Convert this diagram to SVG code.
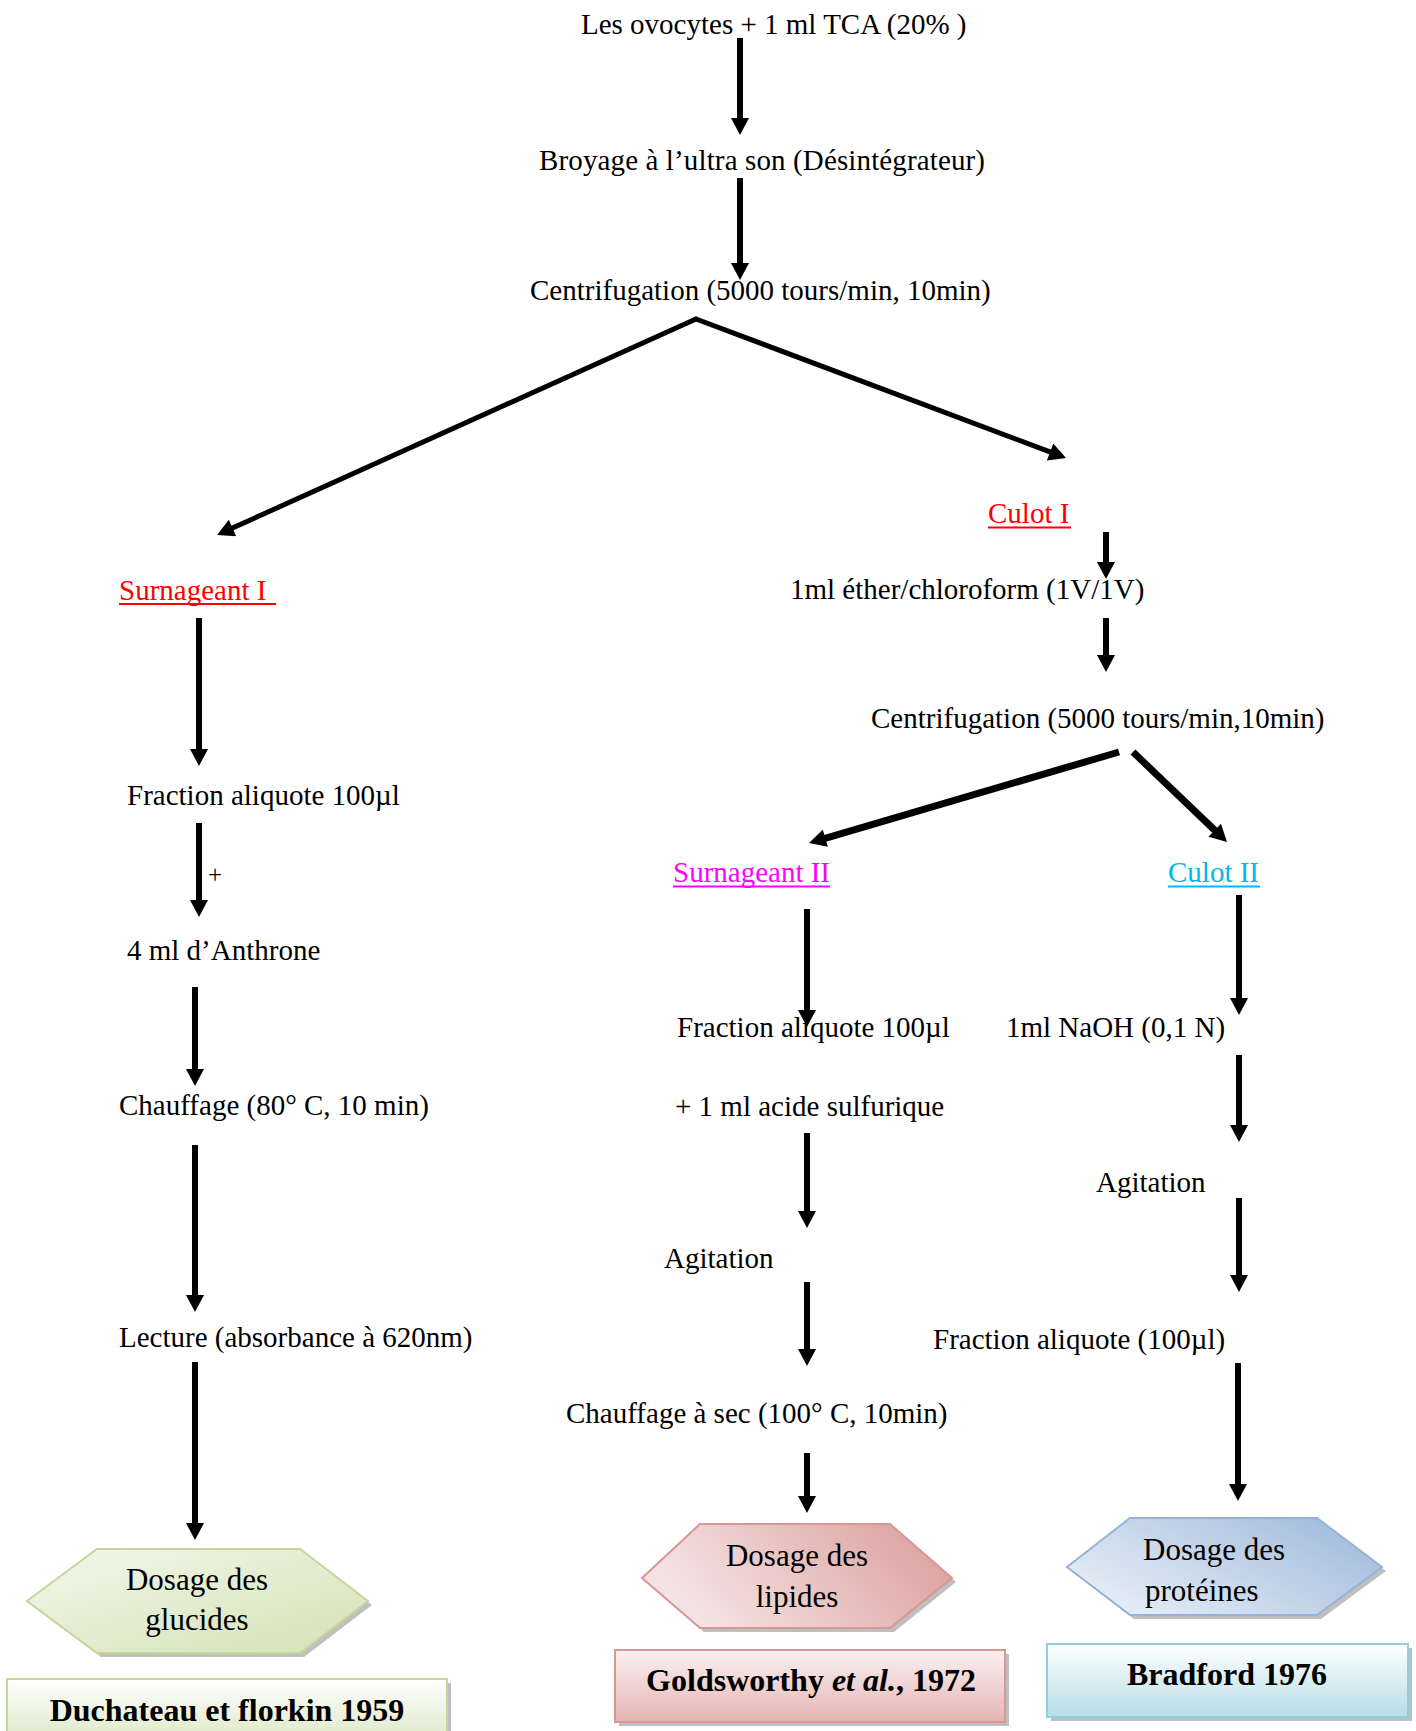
<svg xmlns="http://www.w3.org/2000/svg" width="1416" height="1731" viewBox="0 0 1416 1731">
<style>
.t{font-family:"Liberation Serif","Times New Roman",serif;font-size:29px;fill:#000}
.h{font-family:"Liberation Serif","Times New Roman",serif;font-size:31px;fill:#000}
.b{font-family:"Liberation Serif","Times New Roman",serif;font-size:32px;font-weight:bold;fill:#000}
.c{stroke:#000;stroke-width:6;fill:none}
.d{stroke:#000;stroke-width:5;fill:none;stroke-linecap:round}
.d2{stroke:#000;stroke-width:7;fill:none}
.sh{fill:#7f7f7f;opacity:0.5}
</style>
<defs>
<marker id="ah" markerUnits="userSpaceOnUse" markerWidth="18" markerHeight="18" viewBox="0 0 17 18" refX="2" refY="9" orient="auto">
<path d="M0,0 L17,9 L0,18 Z" fill="#000"/>
</marker>
<linearGradient id="gG" x1="0" y1="0" x2="1" y2="1"><stop offset="0" stop-color="#f3f7ea"/><stop offset="1" stop-color="#d3e2b6"/></linearGradient>
<linearGradient id="gP" x1="0" y1="0.3" x2="1" y2="0"><stop offset="0" stop-color="#f5e3e3"/><stop offset="1" stop-color="#d99b99"/></linearGradient>
<linearGradient id="gB" x1="0" y1="0.6" x2="1" y2="0"><stop offset="0" stop-color="#e3ebf5"/><stop offset="1" stop-color="#9ab6d8"/></linearGradient>
<linearGradient id="bG" x1="0" y1="0" x2="0" y2="1"><stop offset="0" stop-color="#ffffff"/><stop offset="1" stop-color="#dfe9c9"/></linearGradient>
<linearGradient id="bP" x1="0" y1="0" x2="0" y2="1"><stop offset="0" stop-color="#fbf1f1"/><stop offset="1" stop-color="#e4b4b3"/></linearGradient>
<linearGradient id="bB" x1="0" y1="0" x2="0" y2="1"><stop offset="0" stop-color="#ffffff"/><stop offset="1" stop-color="#b7dde7"/></linearGradient>
</defs>
<rect width="1416" height="1731" fill="#fff"/>

<g id="connectors">
<line class="c" x1="740" y1="38" x2="740" y2="120" marker-end="url(#ah)"/>
<line class="c" x1="740" y1="178" x2="740" y2="265" marker-end="url(#ah)"/>
<line class="d" x1="696" y1="319" x2="230.7" y2="528.8" marker-end="url(#ah)"/>
<line class="d" x1="696" y1="319" x2="1052" y2="452.7" marker-end="url(#ah)"/>
<line class="c" x1="1106" y1="532" x2="1106" y2="564" marker-end="url(#ah)"/>
<line class="c" x1="1106" y1="618" x2="1106" y2="657" marker-end="url(#ah)"/>
<line class="d2" x1="1119" y1="752" x2="823.4" y2="838.8" marker-end="url(#ah)"/>
<line class="d2" x1="1133" y1="752" x2="1216.2" y2="831.6" marker-end="url(#ah)"/>
<line class="c" x1="199" y1="618" x2="199" y2="751" marker-end="url(#ah)"/>
<line class="c" x1="199" y1="823" x2="199" y2="902" marker-end="url(#ah)"/>
<line class="c" x1="195" y1="987" x2="195" y2="1071" marker-end="url(#ah)"/>
<line class="c" x1="195" y1="1145" x2="195" y2="1297" marker-end="url(#ah)"/>
<line class="c" x1="195" y1="1362" x2="195" y2="1525" marker-end="url(#ah)"/>
<line class="c" x1="807" y1="909" x2="807" y2="1012" marker-end="url(#ah)"/>
<line class="c" x1="807" y1="1133" x2="807" y2="1213" marker-end="url(#ah)"/>
<line class="c" x1="807" y1="1282" x2="807" y2="1351" marker-end="url(#ah)"/>
<line class="c" x1="807" y1="1453" x2="807" y2="1498" marker-end="url(#ah)"/>
<line class="c" x1="1239" y1="895" x2="1239" y2="1000" marker-end="url(#ah)"/>
<line class="c" x1="1239" y1="1055" x2="1239" y2="1127" marker-end="url(#ah)"/>
<line class="c" x1="1239" y1="1198" x2="1239" y2="1277" marker-end="url(#ah)"/>
<line class="c" x1="1238" y1="1363" x2="1238" y2="1486" marker-end="url(#ah)"/>
<text class="t" x="208" y="883" style="font-size:25px">+</text>
</g>

<g id="n-ovocytes"><text class="t" x="581" y="34">Les ovocytes + 1 ml TCA (20% )</text></g>
<g id="n-broyage"><text class="t" x="539" y="170" textLength="446" lengthAdjust="spacing">Broyage à l’ultra son (Désintégrateur)</text></g>
<g id="n-centri1"><text class="t" x="530" y="300">Centrifugation (5000 tours/min, 10min)</text></g>
<g id="n-culot1"><text class="t" x="988" y="523" style="fill:#ff0000">Culot I</text><line x1="988" y1="527.5" x2="1071" y2="527.5" stroke="#ff0000" stroke-width="2"/></g>
<g id="n-surn1"><text class="t" x="119" y="600" style="fill:#ff0000">Surnageant I</text><line x1="119" y1="604" x2="276" y2="604" stroke="#ff0000" stroke-width="2"/></g>
<g id="n-ether"><text class="t" x="790" y="599">1ml éther/chloroform (1V/1V)</text></g>
<g id="n-centri2"><text class="t" x="871" y="728">Centrifugation (5000 tours/min,10min)</text></g>
<g id="n-frac1"><text class="t" x="127" y="805">Fraction aliquote 100µl</text></g>
<g id="n-surn2"><text class="t" x="673" y="882" style="fill:#ff00ff">Surnageant II</text><line x1="673" y1="886.5" x2="830" y2="886.5" stroke="#ff00ff" stroke-width="2"/></g>
<g id="n-culot2"><text class="t" x="1168" y="882" style="fill:#00b8f0">Culot II</text><line x1="1168" y1="886.5" x2="1260" y2="886.5" stroke="#00b8f0" stroke-width="2"/></g>
<g id="n-anthrone"><text class="t" x="127" y="960">4 ml d’Anthrone</text></g>
<g id="n-frac2"><text class="t" x="677" y="1037">Fraction aliquote 100µl</text></g>
<g id="n-naoh"><text class="t" x="1006" y="1037">1ml NaOH (0,1 N)</text></g>
<g id="n-chauff1"><text class="t" x="119" y="1115">Chauffage (80° C, 10 min)</text></g>
<g id="n-acide"><text class="t" x="675" y="1116">+ 1 ml acide sulfurique</text></g>
<g id="n-agit2"><text class="t" x="1096" y="1192">Agitation</text></g>
<g id="n-agit1"><text class="t" x="664" y="1268">Agitation</text></g>
<g id="n-lecture"><text class="t" x="119" y="1347">Lecture (absorbance à 620nm)</text></g>
<g id="n-frac3"><text class="t" x="933" y="1349">Fraction aliquote (100µl)</text></g>
<g id="n-chauff2"><text class="t" x="566" y="1423">Chauffage à sec (100° C, 10min)</text></g>

<g id="n-glucides">
<polygon class="sh" points="31,1605 101,1553 304,1553 372,1605 304,1657 101,1657"/>
<polygon points="27,1601 97,1549 300,1549 368,1601 300,1653 97,1653" fill="url(#gG)" stroke="#c4d79b" stroke-width="2"/>
<text class="h" x="197" y="1590" text-anchor="middle">Dosage des</text>
<text class="h" x="197" y="1630" text-anchor="middle">glucides</text>
</g>
<g id="n-lipides">
<polygon class="sh" points="646,1582 704,1528 894,1528 956,1582 894,1632 704,1632"/>
<polygon points="642,1578 700,1524 890,1524 952,1578 890,1628 700,1628" fill="url(#gP)" stroke="#d99694" stroke-width="2"/>
<text class="h" x="797" y="1566" text-anchor="middle">Dosage des</text>
<text class="h" x="797" y="1607" text-anchor="middle">lipides</text>
</g>
<g id="n-proteines">
<polygon class="sh" points="1071,1571 1134,1522 1321,1522 1386,1571 1321,1619 1134,1619"/>
<polygon points="1067,1567 1130,1518 1317,1518 1382,1567 1317,1615 1130,1615" fill="url(#gB)" stroke="#95b3d7" stroke-width="2"/>
<text class="h" x="1143" y="1560">Dosage des</text>
<text class="h" x="1145" y="1601">protéines</text>
</g>

<g id="n-ref-duchateau">
<rect class="sh" x="11" y="1683" width="440" height="60"/>
<rect x="7" y="1679" width="440" height="60" fill="url(#bG)" stroke="#c4d79b" stroke-width="2"/>
<text class="b" x="227" y="1721" text-anchor="middle">Duchateau et florkin 1959</text>
</g>
<g id="n-ref-goldsworthy">
<rect class="sh" x="619" y="1654" width="390" height="72"/>
<rect x="615" y="1650" width="390" height="72" fill="url(#bP)" stroke="#d99694" stroke-width="2"/>
<text class="b" x="811" y="1691" text-anchor="middle">Goldsworthy <tspan font-style="italic">et al.</tspan>, 1972</text>
</g>
<g id="n-ref-bradford">
<rect class="sh" x="1051" y="1648" width="361" height="73"/>
<rect x="1047" y="1644" width="361" height="73" fill="url(#bB)" stroke="#92cddc" stroke-width="2"/>
<text class="b" x="1227" y="1685" text-anchor="middle">Bradford 1976</text>
</g>
</svg>
